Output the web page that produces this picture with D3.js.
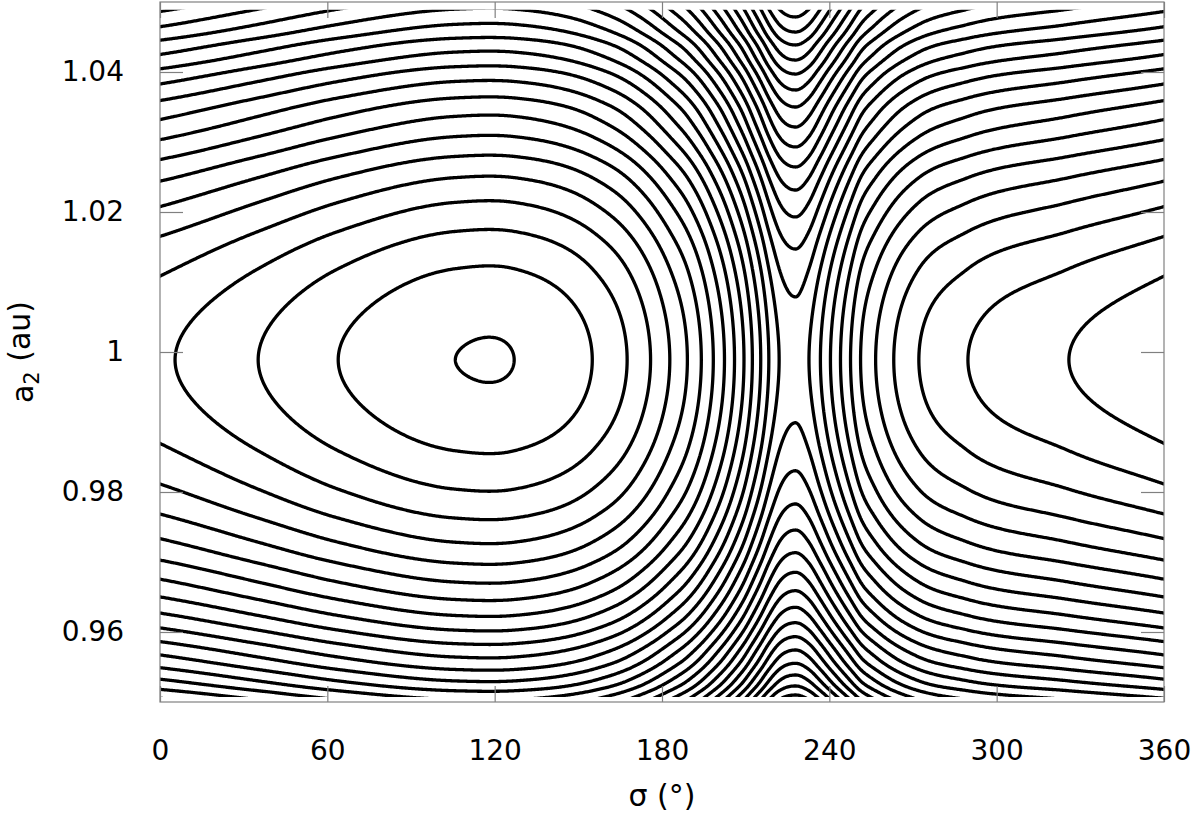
<!DOCTYPE html>
<html>
<head>
<meta charset="utf-8">
<title>Contours of sigma vs a2</title>
<script src="https://cdn.jsdelivr.net/npm/d3@7"></script>
<style>
  body { margin: 0; background: #fff; }
  text { font-family: "DejaVu Sans", sans-serif; fill: #000; }
  .contour { fill: none; stroke: #000; stroke-width: 3.3px; stroke-linejoin: round; }
  .tick line { stroke: #808080; stroke-width: 1.2px; }
</style>
</head>
<body>
<script>
// contour levels drawn (equally spaced)
var levels = [0,1,2,3,4,5,6,7,8,9,10,11,12,13,14,15,16,17,18,19,20,21,22,23,24,25,26,27,28,29];

// sigma (deg) where levels 0..14 cross the centre line, west of the minimum (unwrapped below 0)
var crossWest = [105.9, 63.9, 35.2, 5.4, -34.1, -70.3, -87.9, -96.9, -103.4, -108.8, -112.4, -116.0, -119.6, -123.2, -127.3];
// ... and east of the minimum
var crossEast = [127.0, 155.0, 167.5, 175.9, 182.8, 189.1, 194.1, 198.4, 202.4, 206.0, 209.4, 212.4, 215.4, 218.3, 222.0];

// saddle point
var saddleSigma = 227.9, saddleLevel = 14.52;
var a0 = 0.99879;

// a2 (au) of the tips of the V-shaped curves over the saddle, levels 15..28 above, 15..29 below
var tipsAbove = [1.00786, 1.01471, 1.01929, 1.02314, 1.02643, 1.02929, 1.03214, 1.03500, 1.03743, 1.03971, 1.04171, 1.04386, 1.04571, 1.04786];
var tipsBelow = [0.98990, 0.98304, 0.97829, 0.97457, 0.97133, 0.96853, 0.96590, 0.96353, 0.96133, 0.95933, 0.95743, 0.95553, 0.95386, 0.95229, 0.95100];

// axes
var xTicks = [0, 60, 120, 180, 240, 300, 360];
var yTicks = [0.96, 0.98, 1, 1.02, 1.04];

var W = 1200, H = 817;
var x = d3.scaleLinear().domain([0, 360]).range([160, 1164]);
var y = d3.scaleLinear().domain([0.95, 1.05]).range([702, 2]);

// smooth cubic through the read points (parabolic slopes, clamped where monotone)
function spline(xs, ys, ends) {
  var n = xs.length, h = [], d = [], m = [];
  for (var i = 0; i < n - 1; i++) { h[i] = xs[i+1] - xs[i]; d[i] = (ys[i+1] - ys[i]) / h[i]; }
  for (var i = 1; i < n - 1; i++) {
    m[i] = (h[i-1] * d[i] + h[i] * d[i-1]) / (h[i-1] + h[i]);
    if (d[i-1] * d[i] > 0) {
      var lim = 3 * Math.min(Math.abs(d[i-1]), Math.abs(d[i]));
      if (Math.abs(m[i]) > lim) m[i] = Math.sign(m[i]) * lim;
    }
  }
  m[0] = ends ? ends[0] : d[0];
  m[n-1] = ends ? ends[1] : d[n-2];
  var bis = d3.bisector(function(v) { return v; }).right;
  return function(t) {
    if (t <= xs[0]) return ys[0] + m[0] * (t - xs[0]);
    if (t >= xs[n-1]) return ys[n-1] + m[n-1] * (t - xs[n-1]);
    var i = Math.min(n - 2, bis(xs, t) - 1);
    var u = (t - xs[i]) / h[i], u2 = u*u, u3 = u2*u;
    return (2*u3 - 3*u2 + 1) * ys[i] + (u3 - 2*u2 + u) * h[i] * m[i] +
           (-2*u3 + 3*u2) * ys[i+1] + (u3 - u2) * h[i] * m[i+1];
  };
}

// potential along sigma (one period, saddle to saddle)
var lowLevels = levels.slice(0, crossWest.length);
var vx = [saddleSigma - 360].concat(crossWest.slice().reverse(), crossEast, [saddleSigma]);
var vy = [saddleLevel].concat(lowLevels.slice().reverse(), lowLevels, [saddleLevel]);
var V = spline(vx, vy, [0, 0]);
function Vwrap(s) {
  while (s < saddleSigma - 360) s += 360;
  while (s > saddleSigma) s -= 360;
  return V(s);
}

// part along a2
var upLevels = levels.slice(15);
var fx = tipsBelow.slice().reverse().concat([a0], tipsAbove);
var fy = upLevels.slice(0, tipsBelow.length).reverse().map(function(l) { return l - saddleLevel; })
  .concat([0], upLevels.slice(0, tipsAbove.length).map(function(l) { return l - saddleLevel; }));
var F = spline(fx, fy);

// grid (a bit wider than the plot so the grid border falls outside the clip)
var s0 = -4, ds = 0.4, nx = Math.round(368 / ds) + 1;
var aLo = 0.9495, da = 0.0001, ny = Math.round(0.101 / da) + 1;
var vcol = new Float64Array(nx), frow = new Float64Array(ny);
for (var i = 0; i < nx; i++) vcol[i] = Vwrap(s0 + i * ds);
for (var j = 0; j < ny; j++) frow[j] = F(aLo + j * da);
var values = new Float64Array(nx * ny);
for (var j = 0; j < ny; j++) for (var i = 0; i < nx; i++) values[j * nx + i] = frow[j] + vcol[i];

var contours = d3.contours().size([nx, ny]).thresholds(levels)(values);

var svg = d3.select("body").append("svg").attr("width", W).attr("height", H);

svg.append("clipPath").attr("id", "clip")
  .append("rect")
    .attr("x", x(0)).attr("width", x(360) - x(0))
    .attr("y", y(1.0489)).attr("height", y(0.9507) - y(1.0489));

var line = d3.line()
  .x(function(p) { return x(s0 + (p[0] - 0.5) * ds); })
  .y(function(p) { return y(aLo + (p[1] - 0.5) * da); });

svg.append("g").attr("clip-path", "url(#clip)")
  .selectAll("path")
  .data(contours)
  .enter().append("path")
    .attr("class", "contour")
    .attr("d", function(c) {
      var d = "";
      c.coordinates.forEach(function(poly) {
        poly.forEach(function(ring) { d += line(ring); });
      });
      return d;
    });

// axes with inward ticks, mirrored
function strip(g) { g.select(".domain").remove(); g.attr("font-size", null).attr("font-family", null); }

svg.append("g").attr("transform", "translate(" + x(0) + ",0)")
  .call(d3.axisLeft(y).tickValues(yTicks).tickSizeInner(-23).tickSizeOuter(0).tickPadding(36)
    .tickFormat(function(d) { return String(d); }))
  .call(strip)
  .selectAll("text").style("font-size", "28px");

svg.append("g").attr("transform", "translate(" + x(360) + ",0)")
  .call(d3.axisRight(y).tickValues(yTicks).tickSizeInner(-23).tickSizeOuter(0).tickFormat(""))
  .call(strip);

svg.append("g").attr("transform", "translate(0," + y(0.95) + ")")
  .call(d3.axisBottom(x).tickValues(xTicks).tickSizeInner(-16).tickSizeOuter(0).tickPadding(38)
    .tickFormat(function(d) { return String(d); }))
  .call(strip)
  .selectAll("text").style("font-size", "28px");

svg.append("g").attr("transform", "translate(0," + y(1.05) + ")")
  .call(d3.axisTop(x).tickValues(xTicks).tickSizeInner(-16).tickSizeOuter(0).tickFormat(""))
  .call(strip);

// frame
svg.append("rect")
  .attr("x", x(0)).attr("y", y(1.05))
  .attr("width", x(360) - x(0)).attr("height", y(0.95) - y(1.05))
  .attr("fill", "none").attr("stroke", "#808080").attr("stroke-width", 1.2);

// axis titles
svg.append("text")
  .attr("x", (x(0) + x(360)) / 2).attr("y", 806)
  .attr("text-anchor", "middle").style("font-size", "30px")
  .text("σ (°)");

var yt = svg.append("text")
  .attr("transform", "translate(33," + y(1) + ") rotate(-90)")
  .attr("text-anchor", "middle").style("font-size", "30px");
yt.append("tspan").text("a");
yt.append("tspan").attr("dy", "0.3em").style("font-size", "21px").text("2");
yt.append("tspan").attr("dy", "-0.3em").text(" (au)");
</script>
</body>
</html>
